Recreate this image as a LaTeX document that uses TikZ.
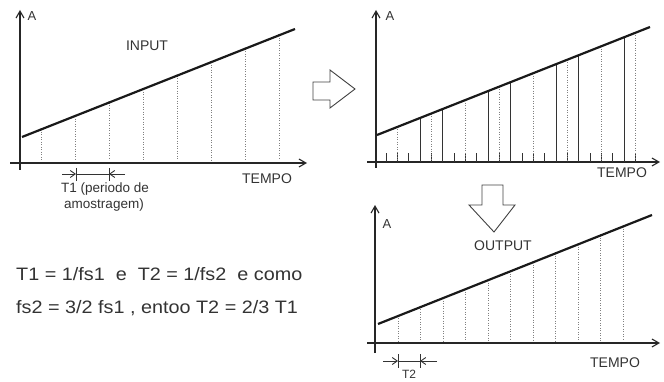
\documentclass[tikz,border=0pt]{standalone}
\usepackage{fontspec}
\setmainfont{Liberation Sans}
\newfontfamily\eqfont[FakeStretch=1.1]{Liberation Sans}
\usetikzlibrary{arrows.meta}
\begin{document}
\begin{tikzpicture}[x=1pt,y=-1pt,
  axis/.style={line width=1.1pt,black!85,-{Straight Barb[length=7pt,width=8pt]}},
  sig/.style={line width=2.2pt,black!90},
  samp/.style={line width=1pt,black!50,dash pattern=on 0.9pt off 1.6pt},
  outs/.style={line width=1pt,black!80},
  tick/.style={line width=0.9pt,black!80},
  dim/.style={line width=0.9pt,black!80},
  dimarr/.style={line width=0.9pt,black!80,-{Straight Barb[length=5pt,width=7pt]}},
  bigarr/.style={line width=0.9pt,black!75},
  lbl/.style={font=\fontsize{14}{16}\selectfont,text=black!80,inner sep=0pt},
  eqlbl/.style={font=\eqfont\fontsize{18}{20}\selectfont,text=black!80,inner sep=0pt},
  slbl/.style={font=\fontsize{13.5}{15}\selectfont,text=black!80,inner sep=0pt},
  albl/.style={font=\fontsize{13}{15}\selectfont,text=black!80,inner sep=0pt},
  dot/.style={circle,fill=black!80,inner sep=0pt,minimum size=2.2pt}
]
\useasboundingbox (0,0) rectangle (664,382);

% ---------- Panel 1: INPUT ----------
\draw[axis] (20,170) -- (20,10);
\draw[axis] (10,163) -- (307,163);
\node[albl] (a1) at (32,16) {A};
\foreach \k in {0,...,7}{
  \pgfmathsetmacro\xx{41+34*\k}
  \pgfmathsetmacro\yy{137-0.3956*(\xx-22)}
  \draw[samp] (\xx,\yy) -- (\xx,160);
  \node[dot] at (\xx,\yy) {};
}
\draw[sig] (22,137) -- (295,29);
\node[lbl] (inp) at (147,46) {INPUT};
\node[lbl] (t1) at (267,179) {TEMPO};
% T1 dimension
\draw[dimarr] (62,174) -- (76,174);
\draw[dimarr] (125,174) -- (109,174);
\draw[dim] (76,174) -- (109,174);
\draw[dim] (76,168) -- (76,181);
\draw[dim] (109,168) -- (109,181);
\node[slbl] (per1) at (105,189) {T1 (periodo de};
\node[slbl] (per2) at (104,205) {amostragem)};

% ---------- big right arrow ----------
\draw[bigarr] (313,82) -- (330,82) -- (330,70) -- (355,89) -- (330,108) -- (330,100) -- (313,100) -- cycle;

% ---------- Panel 2 ----------
\draw[axis] (376,168) -- (376,10);
\draw[axis] (367,162) -- (660,162);
\node[albl] (a2) at (390,16) {A};
\foreach \k in {0,...,22}{
  \pgfmathsetmacro\xx{386+11.333*\k}
  \draw[tick] (\xx,162) -- (\xx,153);
}
\foreach \k in {1,4,7,10,13,16,19,22}{
  \pgfmathsetmacro\xx{386+11.333*\k}
  \pgfmathsetmacro\yy{135-0.3956*(\xx-377)}
  \draw[samp] (\xx,\yy) -- (\xx,160);
}
\foreach \k in {3,5,9,11,15,17,21}{
  \pgfmathsetmacro\xx{386+11.333*\k}
  \pgfmathsetmacro\yy{135-0.3956*(\xx-377)}
  \draw[outs] (\xx,\yy) -- (\xx,162);
}
\draw[sig] (377,135) -- (650,27);
\node[lbl] (t2) at (622,173) {TEMPO};

% ---------- big down arrow ----------
\draw[bigarr] (482,185) -- (503,185) -- (503,205) -- (515,205) -- (494,232) -- (469,205) -- (482,205) -- cycle;

% ---------- Panel 3: OUTPUT ----------
\draw[axis] (375,353) -- (375,205);
\draw[axis] (367,343) -- (660,343);
\node[albl] (a3) at (387,224) {A};
\foreach \k in {0,...,10}{
  \pgfmathsetmacro\xx{398.3+22.5*\k}
  \pgfmathsetmacro\yy{324-0.398*(\xx-378)}
  \draw[samp] (\xx,\yy) -- (\xx,341);
  \node[dot] at (\xx,\yy) {};
}
\draw[sig] (378,324) -- (652,215);
\node[lbl] (out) at (503,246) {OUTPUT};
\node[lbl] (t3) at (615,363) {TEMPO};
% T2 dimension
\draw[dimarr] (383,361) -- (398,361);
\draw[dimarr] (437,361) -- (420,361);
\draw[dim] (398,361) -- (420,361);
\draw[dim] (398,354) -- (398,368);
\draw[dim] (420,354) -- (420,368);
\node[albl,font=\fontsize{12}{13}\selectfont] (tt2) at (409,374) {T2};

% ---------- text ----------
\node[eqlbl,anchor=west] (eq1) at (16,274) {T1 = 1/fs1\ \ e\ \ T2 = 1/fs2\ \ e como};
\node[eqlbl,anchor=west] (eq2) at (16,308) {fs2 = 3/2 fs1 , entoo T2 = 2/3 T1};
\end{tikzpicture}
\end{document}
